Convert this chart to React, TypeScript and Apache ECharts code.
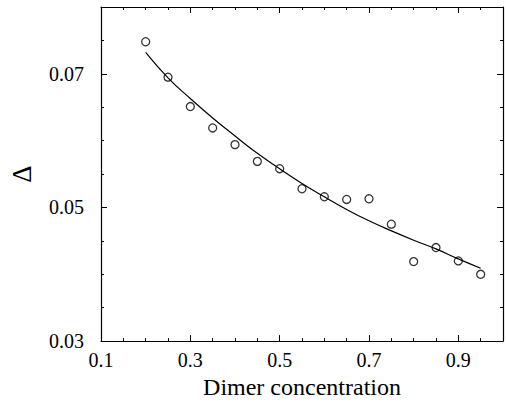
import React, { useEffect, useRef } from "react";
import * as echarts from "echarts";

const xValues = [0.2, 0.25, 0.3, 0.35, 0.4, 0.45, 0.5, 0.55, 0.6, 0.65, 0.7, 0.75, 0.8, 0.85, 0.9, 0.95];
const measured = [0.0748, 0.0695, 0.0651, 0.0619, 0.0594, 0.0569, 0.0558, 0.0528, 0.0516, 0.0512, 0.0513, 0.0475, 0.0419, 0.044, 0.042, 0.04];
const fitted = [0.0732, 0.0694, 0.0663, 0.0634, 0.0607, 0.0581, 0.0558, 0.0536, 0.0516, 0.0497, 0.048, 0.0465, 0.0451, 0.0438, 0.0423, 0.0409];
const xTicks = [0.1, 0.3, 0.5, 0.7, 0.9];
const yTicks = [0.03, 0.05, 0.07];

const FONT = "serif";

export default function App() {
  const ref = useRef<HTMLDivElement>(null);
  useEffect(() => {
    if (!ref.current) return;
    const chart = echarts.init(ref.current, null, { renderer: "svg" });
    const axisCommon = {
      axisLine: { show: true, onZero: false, lineStyle: { color: "#000", width: 1.2 } },
      axisTick: { show: true, inside: true, length: 6, lineStyle: { color: "#000", width: 1 } },
      minorTick: { show: true, splitNumber: 4, length: 3, lineStyle: { color: "#000", width: 1 } },
      splitLine: { show: false },
      minorSplitLine: { show: false },
    };
    chart.setOption({
      animation: false,
      backgroundColor: "#fff",
      textStyle: { fontFamily: FONT },
      grid: { left: 100, right: 2, top: 7, bottom: 52 },
      xAxis: [
        {
          type: "value",
          min: 0.1,
          max: 1.0,
          interval: 0.2,
          position: "bottom",
          ...axisCommon,
          axisLabel: {
            show: true,
            margin: 9,
            fontFamily: FONT,
            fontSize: 20,
            color: "#000",
            formatter: (v: number) => (xTicks.some((t) => Math.abs(t - v) < 1e-9) ? v.toFixed(1) : ""),
          },
          name: "Dimer concentration",
          nameLocation: "middle",
          nameGap: 32,
          nameTextStyle: { fontFamily: FONT, fontSize: 24, color: "#000" },
        },
        {
          type: "value",
          min: 0.1,
          max: 1.0,
          interval: 0.2,
          position: "top",
          ...axisCommon,
          axisLabel: { show: false },
        },
      ],
      yAxis: [
        {
          type: "value",
          min: 0.03,
          max: 0.08,
          interval: 0.02,
          position: "left",
          ...axisCommon,
          axisLabel: {
            show: true,
            margin: 17,
            fontFamily: FONT,
            fontSize: 20,
            color: "#000",
            formatter: (v: number) => (yTicks.some((t) => Math.abs(t - v) < 1e-9) ? v.toFixed(2) : ""),
          },
          name: "\u0394",
          nameLocation: "middle",
          nameRotate: 90,
          nameGap: 66,
          nameTextStyle: { fontFamily: FONT, fontSize: 27, color: "#000" },
        },
        {
          type: "value",
          min: 0.03,
          max: 0.08,
          interval: 0.02,
          position: "right",
          ...axisCommon,
          axisLabel: { show: false },
        },
      ],
      series: [
        {
          type: "line",
          data: xValues.map((x, i) => [x, fitted[i]]),
          smooth: true,
          showSymbol: false,
          symbol: "none",
          lineStyle: { color: "#000", width: 1.2 },
          silent: true,
          z: 2,
        },
        {
          type: "scatter",
          data: xValues.map((x, i) => [x, measured[i]]),
          symbol: "circle",
          symbolSize: 8,
          itemStyle: { color: "rgba(255,255,255,0)", borderColor: "#000", borderWidth: 1.3 },
          z: 3,
        },
      ],
    });
    return () => chart.dispose();
  }, []);
  return (
    <div
      ref={ref}
      style={{ position: "fixed", left: 0, top: 0, width: 506, height: 404, background: "#fff" }}
    />
  );
}
